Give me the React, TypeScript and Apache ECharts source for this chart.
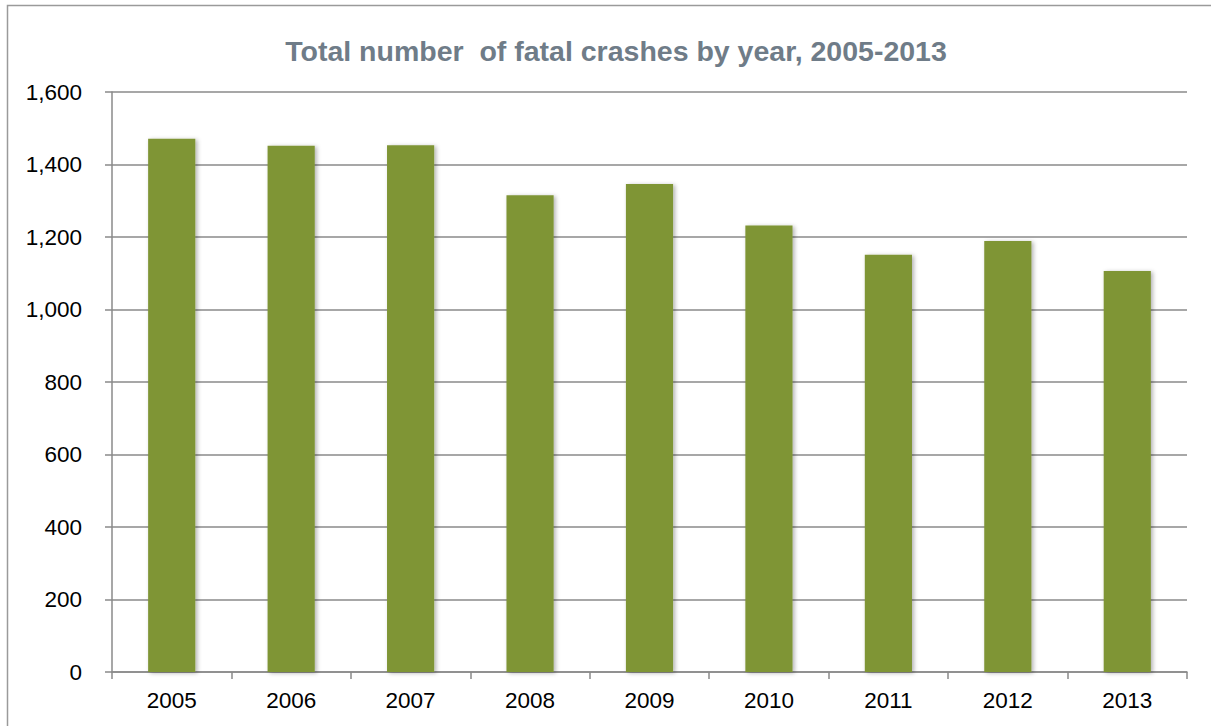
import React, { useEffect, useRef } from "react";
import * as echarts from "echarts";

const categories = ["2005", "2006", "2007", "2008", "2009", "2010", "2011", "2012", "2013"];
const crashes = [1471, 1452, 1453, 1315, 1346, 1232, 1151, 1189, 1106];
const titleText = "Total number  of fatal crashes by year, 2005-2013";

const FONT = "Arial, 'Liberation Sans', sans-serif";

export default function App() {
  const ref = useRef<HTMLDivElement>(null);
  useEffect(() => {
    if (!ref.current) return;
    const chart = echarts.init(ref.current, null, { renderer: "svg" });
    chart.setOption({
      animation: false,
      backgroundColor: "#ffffff",
      title: {
        text: titleText,
        left: 611,
        textAlign: "center",
        top: 31,
        textStyle: {
          fontFamily: FONT,
          fontSize: 28.5,
          fontWeight: "bold",
          color: "#6F7C88",
        },
      },
      graphic: [
        {
          type: "rect",
          shape: { x: 7.5, y: 5.5, width: 1400, height: 900 },
          style: { fill: "none", stroke: "#9a9a9a", lineWidth: 1.5 },
          silent: true,
        },
      ],
      grid: { left: 112, right: 24, top: 92, bottom: 54, containLabel: false },
      xAxis: {
        type: "category",
        data: categories,
        axisLine: { show: true, lineStyle: { color: "#8a8a8a", width: 1.5 } },
        axisTick: { show: true, length: 7, lineStyle: { color: "#8a8a8a", width: 1.5 } },
        axisLabel: {
          margin: 17,
          fontFamily: FONT,
          fontSize: 22.5,
          color: "#000000",
        },
      },
      yAxis: {
        type: "value",
        min: 0,
        max: 1600,
        interval: 200,
        axisLine: { show: true, lineStyle: { color: "#8a8a8a", width: 1.5 } },
        axisTick: { show: true, length: 7, lineStyle: { color: "#8a8a8a", width: 1.5 } },
        splitLine: { show: true, lineStyle: { color: "#8a8a8a", width: 1.5 } },
        axisLabel: {
          margin: 30,
          fontFamily: FONT,
          fontSize: 22.5,
          color: "#000000",
          formatter: (v: number) => v.toLocaleString("en-US"),
        },
      },
      series: [
        {
          type: "bar",
          data: crashes,
          barWidth: "39.5%",
          itemStyle: {
            color: "#7F9535",
            shadowBlur: 4,
            shadowColor: "rgba(0,0,0,0.3)",
            shadowOffsetX: 2,
            shadowOffsetY: 1,
          },
        },
      ],
    });
    return () => chart.dispose();
  }, []);
  return (
    <div
      ref={ref}
      style={{ position: "absolute", left: 0, top: 0, width: 1211, height: 726 }}
    />
  );
}
